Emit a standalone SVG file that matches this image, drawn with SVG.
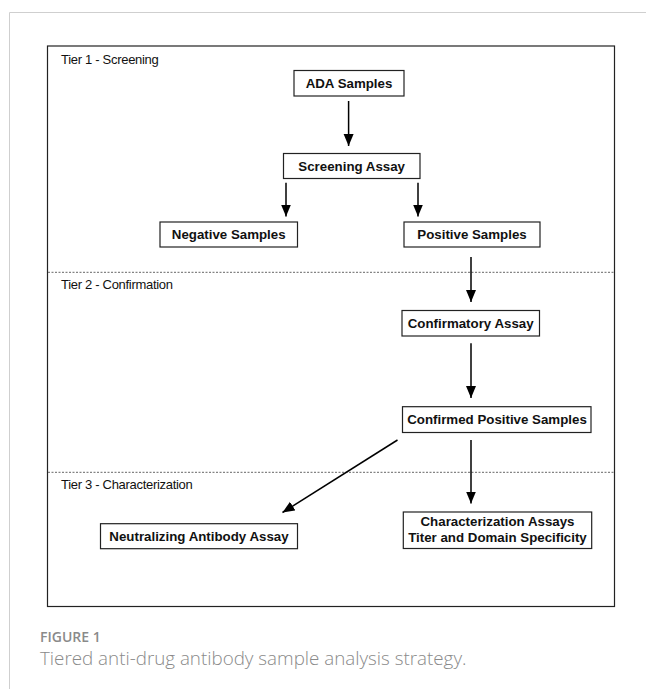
<svg xmlns="http://www.w3.org/2000/svg" width="646" height="689" viewBox="0 0 646 689">
<defs>
<marker id="ah" markerUnits="userSpaceOnUse" markerWidth="13" markerHeight="11" refX="12" refY="5" orient="auto">
<path d="M0,0 L12,5 L0,10 Z" fill="#000"/>
</marker>
<style>
.box{fill:#fff;stroke:#222;stroke-width:1.2}
.lbl{font-family:"Liberation Sans",Arial,sans-serif;font-size:13.3px;font-weight:bold;fill:#111;text-anchor:middle}
.tier{font-family:"Liberation Sans",Arial,sans-serif;font-size:13px;letter-spacing:-0.3px;fill:#111}
.conn{stroke:#000;stroke-width:1.5;fill:none;marker-end:url(#ah)}
.dash{stroke:#666;stroke-width:1;stroke-dasharray:2,1.5}
</style>
</defs>
<rect width="646" height="689" fill="#fff"/>
<path d="M9.5,689 L9.5,12.5 L646,12.5" fill="none" stroke="#cfcfcf" stroke-width="1"/>
<g id="frame">
<rect x="47.5" y="46" width="567" height="560.5" fill="#fff" stroke="#222" stroke-width="1.2"/>
<line class="dash" x1="48" y1="272.3" x2="614" y2="272.3"/>
<line class="dash" x1="48" y1="472.3" x2="614" y2="472.3"/>
<text class="tier" x="61" y="64">Tier 1 - Screening</text>
<text class="tier" x="61" y="288.5">Tier 2 - Confirmation</text>
<text class="tier" x="61" y="488.5">Tier 3 - Characterization</text>
</g>
<g id="connectors">
<line class="conn" x1="348.6" y1="101" x2="348.6" y2="146"/>
<line class="conn" x1="286" y1="182.7" x2="286" y2="216.5"/>
<line class="conn" x1="418" y1="182.7" x2="418" y2="216.5"/>
<line class="conn" x1="471" y1="257" x2="471" y2="302"/>
<line class="conn" x1="471" y1="343.3" x2="471" y2="398"/>
<line class="conn" x1="471" y1="440" x2="471" y2="503.5"/>
<line class="conn" x1="397.5" y1="440" x2="282.5" y2="512.5"/>
</g>
<g id="ada"><rect class="box" x="294" y="70.5" width="110" height="25.5"/><text class="lbl" x="349" y="88">ADA Samples</text></g>
<g id="screening"><rect class="box" x="283.5" y="153.5" width="136.5" height="25"/><text class="lbl" x="351.7" y="171">Screening Assay</text></g>
<g id="negative"><rect class="box" x="160" y="222" width="137.5" height="25"/><text class="lbl" x="228.7" y="239">Negative Samples</text></g>
<g id="positive"><rect class="box" x="404" y="222" width="136" height="25"/><text class="lbl" x="472" y="239">Positive Samples</text></g>
<g id="confirmatory"><rect class="box" x="402" y="310.5" width="137.5" height="25.5"/><text class="lbl" x="470.7" y="328">Confirmatory Assay</text></g>
<g id="confirmed"><rect class="box" x="402.5" y="406.7" width="188.5" height="25.8"/><text class="lbl" x="497" y="424.3">Confirmed Positive Samples</text></g>
<g id="neutralizing"><rect class="box" x="100.5" y="523.7" width="197" height="25"/><text class="lbl" x="199" y="541">Neutralizing Antibody Assay</text></g>
<g id="characterization"><rect class="box" x="403.3" y="512" width="188.4" height="36.5"/><text class="lbl" x="497.5" y="526">Characterization Assays</text><text class="lbl" x="497.5" y="542">Titer and Domain Specificity</text></g>
<g id="caption">
<text x="40" y="641.7" font-family="'Open Sans',sans-serif" font-size="14" font-weight="600" fill="#8a8a8a">FIGURE 1</text>
<text x="40" y="665" font-family="'Open Sans',sans-serif" font-size="18.8" font-weight="300" fill="#8a8a8a">Tiered anti-drug antibody sample analysis strategy.</text>
</g>
</svg>
